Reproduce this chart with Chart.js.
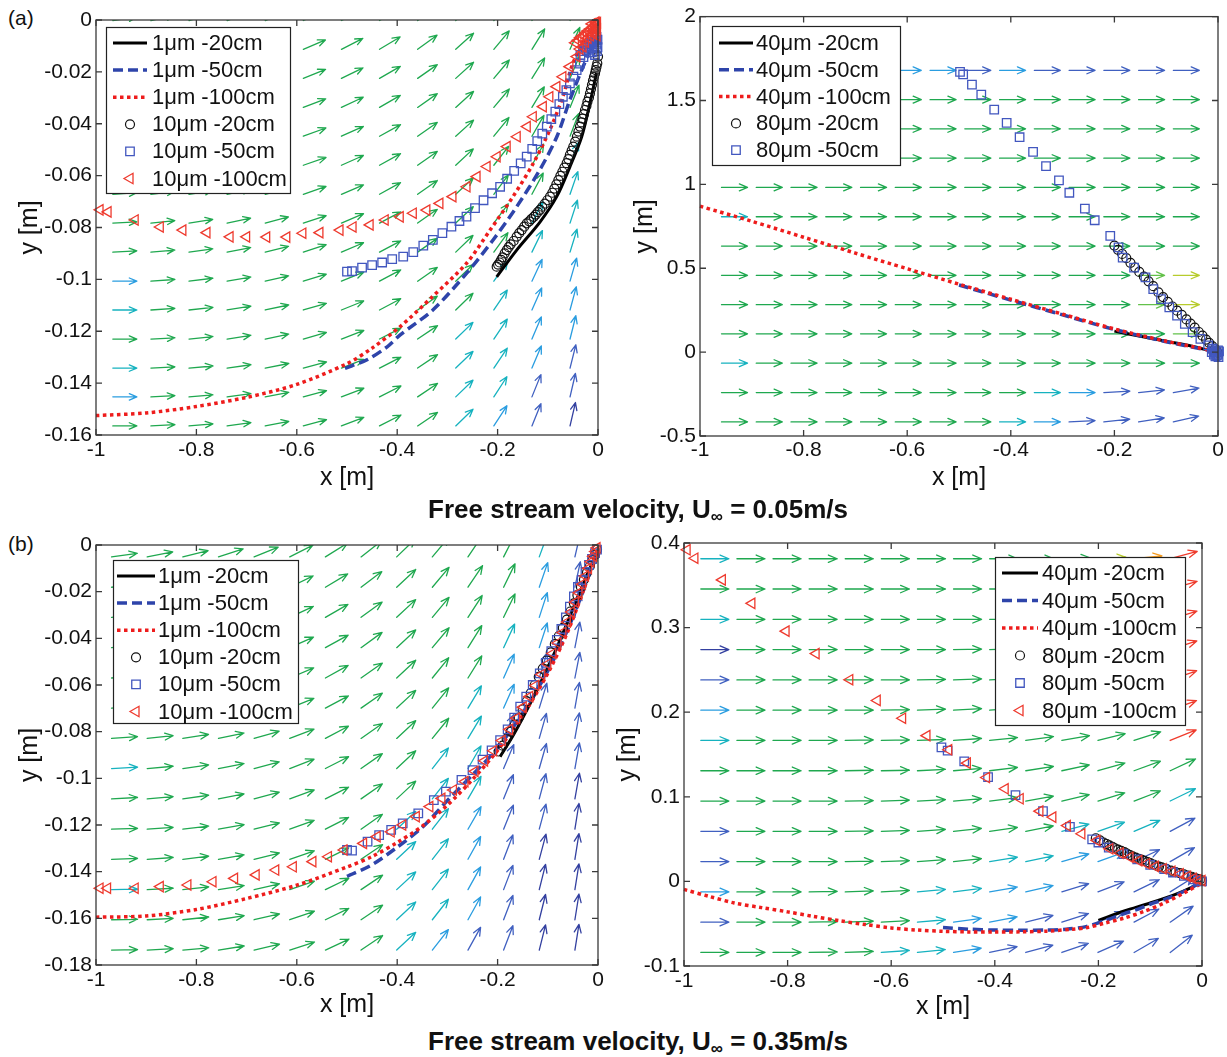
<!DOCTYPE html>
<html>
<head>
<meta charset="utf-8">
<script src="https://cdn.jsdelivr.net/npm/chart.js@4.4.1/dist/chart.umd.min.js"></script>
<style>
body { margin: 0; background: #fff; width: 1227px; height: 1057px; position: relative; overflow: hidden; font-family: 'Liberation Sans', Arial, sans-serif; color: #111; }
.panel { position: absolute; }
.tag { position: absolute; font-size: 21px; line-height: 24px; }
.cap { position: absolute; font-weight: bold; font-size: 26px; line-height: 30px; transform: translateX(-50%); white-space: nowrap; }
.cap sub { font-size: 17px; vertical-align: -4px; line-height: 0; }
</style>
</head>
<body>
<div class="tag" style="left:8px;top:6px">(a)</div>
<div class="tag" style="left:8px;top:532px">(b)</div>
<div class="panel" style="left:0;top:0"><canvas id="a1" width="610" height="500"></canvas></div>
<div class="panel" style="left:620px;top:0"><canvas id="a2" width="607" height="500"></canvas></div>
<div class="panel" style="left:0;top:525px"><canvas id="b1" width="610" height="500"></canvas></div>
<div class="panel" style="left:610px;top:525px"><canvas id="b2" width="617" height="500"></canvas></div>
<div class="cap" style="left:638px;top:494px">Free stream velocity, U<sub>∞</sub> = 0.05m/s</div>
<div class="cap" style="left:638px;top:1026px">Free stream velocity, U<sub>∞</sub> = 0.35m/s</div>
<script>
// ---- tick values
const xTicks = [-1, -0.8, -0.6, -0.4, -0.2, 0];
const a1YTicks = [-0.16, -0.14, -0.12, -0.1, -0.08, -0.06, -0.04, -0.02, 0];
const a2YTicks = [-0.5, 0, 0.5, 1, 1.5, 2];
const b1YTicks = [-0.18, -0.16, -0.14, -0.12, -0.1, -0.08, -0.06, -0.04, -0.02, 0];
const b2YTicks = [-0.1, 0, 0.1, 0.2, 0.3, 0.4];

// ---- legend labels
const smallLabels = ['1μm -20cm', '1μm -50cm', '1μm -100cm', '10μm -20cm', '10μm -50cm', '10μm -100cm'];
const largeLabels = ['40μm -20cm', '40μm -50cm', '40μm -100cm', '80μm -20cm', '80μm -50cm', '80μm -100cm'];

// ---- velocity field, panel (a) left : arrow tails, angle (deg), speed class
const a1GridX = [-0.9665, -0.8906, -0.8147, -0.7388, -0.6629, -0.587, -0.5111, -0.4352, -0.3593, -0.2834, -0.2075, -0.1316, -0.0557];
const a1GridY = [-0.0002, -0.0113, -0.0225, -0.0337, -0.0448, -0.056, -0.0672, -0.0783, -0.0895, -0.1007, -0.1118, -0.123, -0.1342, -0.1453, -0.1565];
const a1Angle = [
  [8, 12, 15, 18, 21, 24, 27, 31, 36, 42, 49, 57, 65],
  [7, 11, 14, 17, 20, 23, 27, 31, 36, 42, 50, 58, 66],
  [7, 10, 13, 16, 19, 22, 26, 30, 35, 42, 50, 58, 67],
  [6, 9, 12, 15, 18, 21, 25, 30, 35, 42, 50, 59, 68],
  [5, 8, 11, 14, 17, 20, 24, 29, 35, 42, 51, 60, 69],
  [4, 7, 10, 13, 16, 19, 24, 29, 35, 43, 52, 61, 70],
  [4, 7, 9, 12, 15, 19, 23, 29, 35, 43, 53, 62, 71],
  [3, 6, 9, 12, 15, 18, 23, 28, 35, 43, 53, 63, 72],
  [3, 5, 8, 11, 14, 18, 23, 28, 35, 44, 54, 64, 73],
  [0, 4, 7, 10, 13, 17, 22, 28, 35, 44, 55, 65, 74],
  [0, 4, 6, 9, 12, 16, 22, 28, 35, 44, 56, 66, 75],
  [0, 3, 6, 9, 12, 16, 21, 27, 34, 44, 56, 67, 76],
  [0, 3, 5, 8, 11, 15, 21, 27, 34, 44, 56, 67, 76],
  [0, 3, 5, 8, 11, 15, 21, 27, 34, 44, 57, 68, 77],
  [0, 3, 5, 8, 11, 15, 21, 27, 34, 44, 57, 68, 77]
];
const a1Speed = [
  [5, 5, 5, 5, 5, 5, 5, 5, 5, 5, 5, 5, 5],
  [5, 5, 5, 5, 5, 5, 5, 5, 5, 5, 5, 5, 5],
  [5, 5, 5, 5, 5, 5, 5, 5, 5, 5, 5, 5, 5],
  [5, 5, 5, 5, 5, 5, 5, 5, 5, 5, 5, 5, 5],
  [5, 5, 5, 5, 5, 5, 5, 5, 5, 5, 5, 5, 5],
  [5, 5, 5, 5, 5, 5, 5, 5, 5, 5, 5, 5, 4],
  [5, 5, 5, 5, 5, 5, 5, 5, 5, 5, 5, 5, 4],
  [5, 5, 5, 5, 5, 5, 5, 5, 5, 5, 5, 4, 4],
  [5, 5, 5, 5, 5, 5, 5, 5, 5, 5, 5, 4, 4],
  [3, 5, 5, 5, 5, 5, 5, 5, 5, 5, 4, 3, 3],
  [4, 5, 5, 5, 5, 5, 5, 5, 5, 5, 4, 3, 3],
  [5, 5, 5, 5, 5, 5, 5, 5, 5, 4, 4, 3, 3],
  [4, 5, 5, 5, 5, 5, 5, 5, 5, 4, 4, 3, 2],
  [3, 5, 5, 5, 5, 5, 5, 5, 5, 4, 4, 2, 2],
  [5, 5, 5, 5, 5, 5, 5, 5, 5, 4, 3, 2, 1]
];

// ---- velocity field, panel (a) right
const a2GridX = [-0.9585, -0.8914, -0.8243, -0.7572, -0.6901, -0.623, -0.5559, -0.4888, -0.4217, -0.3546, -0.2875, -0.2204, -0.1533, -0.0862];
const a2GridY = [1.68, 1.505, 1.331, 1.156, 0.982, 0.807, 0.632, 0.458, 0.283, 0.109, -0.066, -0.241, -0.416];
const a2Angle = [
  [0, 0, 0, 0, 0, 0, 0, 0, 0, 0, 0, 0, 0, 0],
  [0, 0, 0, 0, 0, 0, 0, 0, 0, 0, 0, 0, 0, 0],
  [0, 0, 0, 0, 0, 0, 0, 0, 0, 0, 0, 0, 0, 0],
  [0, 0, 0, 0, 0, 0, 0, 0, 0, 0, 0, 0, 0, 0],
  [0, 0, 0, 0, 0, 0, 0, 0, 0, 0, 0, 0, 0, 0],
  [0, 0, 0, 0, 0, 0, 0, 0, 0, 0, 0, 0, 0, 0],
  [0, 0, 0, 0, 0, 0, 0, 0, 0, 0, 0, 0, 0, 0],
  [0, 0, 0, 0, 0, 0, 0, 0, 0, 0, 0, 0, 0, 0],
  [0, 0, 0, 0, 0, 0, 0, 0, 0, 0, 0, 0, 0, 0],
  [0, 0, 0, 0, 0, 0, 0, 0, 0, 0, 0, 0, 0, 0],
  [0, 0, 0, 0, 0, 0, 0, 0, 0, 0, 0, 0, 0, 0],
  [0, 0, 0, 0, 0, 0, 0, 0, 0, 0, 0, 3, 6, 10],
  [0, 0, 0, 0, 0, 0, 0, 0, 0, 0, 3, 6, 9, 13]
];
const a2Speed = [
  [5, 5, 5, 5, 5, 3, 3, 2, 3, 2, 2, 2, 2, 2],
  [5, 5, 5, 5, 5, 5, 5, 5, 5, 5, 5, 5, 5, 5],
  [5, 5, 5, 5, 5, 5, 5, 5, 5, 5, 5, 5, 5, 5],
  [5, 5, 5, 5, 5, 5, 5, 5, 5, 5, 5, 5, 5, 5],
  [5, 5, 5, 5, 5, 5, 5, 5, 5, 5, 5, 5, 5, 5],
  [4, 5, 5, 5, 5, 5, 5, 5, 5, 5, 5, 5, 5, 5],
  [5, 5, 5, 5, 5, 5, 5, 5, 5, 5, 5, 5, 5, 5],
  [5, 5, 5, 5, 5, 5, 5, 5, 5, 5, 5, 5, 6, 7],
  [5, 5, 5, 5, 5, 5, 5, 5, 5, 5, 5, 5, 6, 7],
  [5, 5, 5, 5, 5, 5, 5, 5, 5, 5, 5, 5, 5, 6],
  [4, 5, 5, 5, 5, 5, 5, 5, 5, 5, 5, 5, 5, 5],
  [5, 5, 5, 5, 5, 5, 5, 5, 5, 4, 3, 2, 2, 2],
  [5, 5, 5, 5, 5, 5, 5, 5, 4, 3, 2, 2, 2, 2]
];

// ---- velocity field, panel (b) left
const b1GridX = [-0.969, -0.898, -0.827, -0.756, -0.685, -0.614, -0.543, -0.472, -0.401, -0.33, -0.259, -0.188, -0.117, -0.046];
const b1GridY = [-0.0051, -0.0181, -0.031, -0.044, -0.057, -0.0699, -0.0829, -0.0958, -0.1088, -0.1218, -0.1347, -0.1477, -0.1606, -0.1736];
const b1Angle = [
  [8, 11, 14, 18, 22, 27, 32, 38, 44, 50, 56, 63, 70, 77],
  [7, 10, 13, 17, 21, 26, 31, 37, 43, 50, 56, 64, 71, 78],
  [6, 9, 12, 16, 20, 25, 30, 36, 43, 50, 57, 64, 72, 78],
  [5, 8, 11, 15, 19, 24, 29, 36, 43, 50, 58, 65, 72, 79],
  [5, 7, 10, 14, 18, 23, 29, 35, 43, 51, 58, 66, 73, 79],
  [4, 7, 10, 13, 17, 22, 28, 35, 43, 51, 59, 66, 73, 80],
  [4, 6, 9, 12, 16, 21, 28, 35, 43, 51, 59, 67, 74, 80],
  [3, 5, 8, 11, 15, 21, 27, 35, 43, 52, 60, 67, 74, 80],
  [3, 5, 8, 11, 15, 20, 27, 35, 43, 52, 60, 68, 75, 80],
  [2, 4, 7, 10, 14, 20, 27, 35, 43, 52, 60, 68, 75, 81],
  [2, 4, 7, 10, 14, 19, 26, 34, 43, 52, 61, 69, 75, 81],
  [1, 3, 6, 9, 13, 19, 26, 34, 43, 52, 61, 69, 76, 81],
  [1, 3, 6, 9, 13, 19, 26, 34, 43, 52, 61, 69, 76, 81],
  [1, 3, 5, 9, 13, 18, 25, 34, 43, 52, 61, 69, 76, 81]
];
const b1Speed = [
  [5, 5, 5, 5, 5, 5, 5, 5, 5, 5, 5, 5, 4, 2],
  [5, 5, 5, 5, 5, 5, 5, 5, 5, 5, 5, 5, 3, 2],
  [5, 5, 5, 5, 5, 5, 5, 5, 5, 5, 5, 5, 3, 2],
  [5, 5, 5, 5, 5, 5, 5, 5, 5, 5, 5, 4, 3, 2],
  [5, 5, 5, 5, 5, 5, 5, 5, 5, 5, 5, 3, 2, 2],
  [5, 5, 5, 5, 5, 5, 5, 5, 5, 5, 4, 3, 2, 2],
  [5, 5, 5, 5, 5, 5, 5, 5, 5, 5, 4, 2, 2, 2],
  [4, 5, 5, 5, 5, 5, 5, 5, 5, 4, 4, 2, 2, 2],
  [5, 5, 5, 5, 5, 5, 5, 5, 5, 4, 4, 2, 2, 1],
  [5, 5, 5, 5, 5, 5, 5, 5, 4, 4, 3, 2, 2, 1],
  [5, 5, 5, 5, 5, 5, 5, 5, 4, 4, 3, 2, 1, 1],
  [4, 5, 5, 5, 5, 5, 5, 5, 4, 4, 3, 2, 1, 1],
  [5, 5, 5, 5, 5, 5, 5, 5, 4, 4, 3, 2, 1, 1],
  [5, 5, 5, 5, 5, 5, 5, 5, 4, 3, 2, 2, 1, 1]
];

// ---- velocity field, panel (b) right
const b2GridX = [-0.9675, -0.8978, -0.8281, -0.7584, -0.6887, -0.619, -0.5493, -0.4796, -0.4099, -0.3402, -0.2705, -0.2008, -0.1311, -0.0614];
const b2GridY = [0.3814, 0.3456, 0.3098, 0.274, 0.2382, 0.2024, 0.1666, 0.1308, 0.095, 0.0592, 0.0234, -0.0124, -0.0482, -0.084];
const b2Angle = [
  [0, 0, 0, 0, 0, 0, 0, 0, 0, 0, 2, 3, 6, 15],
  [0, 0, 0, 0, 0, 0, 0, 0, 0, 0, 2, 4, 7, 16],
  [0, 0, 0, 0, 0, 0, 0, 0, 0, 1, 3, 5, 8, 17],
  [0, 0, 0, 0, 0, 0, 0, 1, 2, 3, 4, 6, 10, 18],
  [0, 0, 0, 0, 0, 0, 1, 2, 3, 4, 6, 8, 12, 19],
  [0, 0, 0, 0, 0, 1, 2, 3, 4, 6, 8, 11, 14, 20],
  [0, 0, 0, 0, 1, 1, 2, 4, 6, 8, 10, 14, 18, 22],
  [0, 0, 0, 0, 1, 1, 3, 5, 7, 9, 12, 16, 20, 25],
  [0, 0, 0, 0, 1, 2, 3, 5, 7, 10, 13, 17, 21, 26],
  [0, 0, 0, 0, 1, 2, 4, 6, 8, 11, 15, 19, 23, 28],
  [0, 0, 0, 0, 1, 2, 4, 6, 9, 12, 16, 20, 25, 30],
  [0, 0, 0, 1, 2, 3, 5, 7, 10, 13, 17, 21, 26, 32],
  [0, 0, 0, 1, 2, 3, 5, 8, 11, 14, 18, 22, 28, 35],
  [0, 0, 0, 1, 2, 4, 6, 9, 12, 15, 19, 24, 30, 38]
];
const b2Speed = [
  [4, 5, 5, 5, 5, 5, 5, 5, 5, 5, 5, 7, 8, 9],
  [5, 5, 5, 5, 5, 5, 5, 5, 5, 5, 5, 5, 6, 9],
  [4, 5, 5, 5, 5, 5, 5, 5, 5, 5, 5, 5, 6, 9],
  [1, 5, 5, 5, 5, 5, 5, 5, 5, 5, 5, 5, 6, 9],
  [2, 5, 5, 5, 5, 5, 5, 5, 5, 5, 5, 5, 6, 9],
  [3, 5, 5, 5, 5, 5, 5, 5, 5, 5, 5, 5, 6, 9],
  [4, 5, 5, 5, 5, 5, 5, 5, 5, 5, 5, 5, 5, 9],
  [5, 5, 5, 5, 5, 5, 5, 5, 5, 5, 5, 5, 5, 5],
  [5, 5, 5, 5, 5, 5, 5, 5, 5, 5, 5, 5, 5, 4],
  [2, 5, 5, 5, 5, 5, 5, 5, 5, 5, 4, 4, 4, 2],
  [2, 5, 5, 5, 5, 5, 5, 5, 4, 4, 3, 3, 2, 2],
  [3, 5, 5, 5, 5, 5, 4, 4, 3, 3, 2, 2, 2, 2],
  [2, 5, 5, 5, 5, 5, 4, 3, 3, 2, 2, 2, 2, 2],
  [5, 5, 5, 5, 5, 4, 4, 3, 2, 2, 2, 2, 2, 2]
];

// ---- trajectories, panel (a) left  [x, y]
const a1_1um20 = [[-0.2018, -0.099], [-0.162, -0.0887], [-0.116, -0.078], [-0.082, -0.068], [-0.056, -0.0566], [-0.0325, -0.045], [-0.016, -0.032], [-0.003, -0.0205]];
const a1_1um50 = [[-0.504, -0.1343], [-0.46, -0.131], [-0.42, -0.126], [-0.394, -0.1214], [-0.329, -0.1118], [-0.262, -0.0977], [-0.209, -0.0848], [-0.162, -0.072], [-0.116, -0.0578], [-0.082, -0.045], [-0.056, -0.0308], [-0.0325, -0.0193], [-0.009, -0.009], [0, -0.007]];
const a1_1um100 = [[-1, -0.1525], [-0.9, -0.1515], [-0.8, -0.149], [-0.7, -0.1455], [-0.6, -0.1405], [-0.5, -0.1325], [-0.45, -0.1265], [-0.394, -0.1182], [-0.33, -0.1067], [-0.262, -0.0938], [-0.215, -0.081], [-0.169, -0.068], [-0.129, -0.0553], [-0.096, -0.0424], [-0.07, -0.0296], [-0.05, -0.0167], [-0.0225, -0.0064], [-0.003, -0.0026]];
const a1_10um20 = [[-0.2018, -0.0951], [-0.199, -0.0943], [-0.196, -0.0935], [-0.193, -0.0925], [-0.19, -0.0915], [-0.186, -0.09], [-0.1819, -0.0887], [-0.178, -0.0876], [-0.174, -0.0865], [-0.168, -0.0852], [-0.162, -0.0835], [-0.157, -0.0822], [-0.152, -0.081], [-0.147, -0.0797], [-0.142, -0.0784], [-0.137, -0.0776], [-0.133, -0.0768], [-0.128, -0.0759], [-0.124, -0.075], [-0.12, -0.0741], [-0.1155, -0.0732], [-0.111, -0.072], [-0.106, -0.0708], [-0.101, -0.0695], [-0.0956, -0.0681], [-0.091, -0.0666], [-0.087, -0.065], [-0.083, -0.0634], [-0.079, -0.0617], [-0.075, -0.0601], [-0.071, -0.0585], [-0.067, -0.0569], [-0.0624, -0.0552], [-0.059, -0.0536], [-0.056, -0.052], [-0.0525, -0.0504], [-0.0492, -0.0488], [-0.0455, -0.0469], [-0.042, -0.045], [-0.039, -0.043], [-0.0359, -0.0411], [-0.033, -0.0395], [-0.031, -0.038], [-0.028, -0.0363], [-0.0259, -0.0347], [-0.023, -0.0331], [-0.021, -0.0315], [-0.018, -0.0299], [-0.016, -0.0283], [-0.014, -0.0266], [-0.012, -0.025], [-0.01, -0.0234], [-0.008, -0.0219], [-0.006, -0.0206], [-0.0045, -0.0193], [-0.003, -0.018], [-0.0014, -0.0167], [0, -0.0141]];
const a1_10um50 = [[-0.5, -0.097], [-0.49, -0.0968], [-0.47, -0.0955], [-0.45, -0.0945], [-0.43, -0.0935], [-0.41, -0.0922], [-0.388, -0.0912], [-0.368, -0.0895], [-0.348, -0.087], [-0.329, -0.0848], [-0.31, -0.0822], [-0.292, -0.0797], [-0.276, -0.0775], [-0.262, -0.0758], [-0.245, -0.0725], [-0.228, -0.0695], [-0.211, -0.0668], [-0.195, -0.0643], [-0.181, -0.0612], [-0.167, -0.0582], [-0.154, -0.0553], [-0.142, -0.0527], [-0.131, -0.0497], [-0.121, -0.0467], [-0.111, -0.0438], [-0.102, -0.0411], [-0.093, -0.0382], [-0.085, -0.0353], [-0.077, -0.0324], [-0.07, -0.0296], [-0.063, -0.027], [-0.056, -0.0244], [-0.049, -0.0218], [-0.0425, -0.0193], [-0.036, -0.0168], [-0.029, -0.0143], [-0.0225, -0.0116], [-0.017, -0.0103], [-0.012, -0.0092], [-0.007, -0.0085], [-0.003, -0.0077], [-0.035, -0.0135], [-0.03, -0.012], [-0.025, -0.0105], [-0.02, -0.0095], [-0.015, -0.0088], [-0.01, -0.0082], [-0.005, -0.0078], [-0.001, -0.0076], [-0.004, -0.0095], [-0.008, -0.011], [-0.002, -0.012], [-0.012, -0.0125], [-0.006, -0.0135], [-0.001, -0.0105], [-0.018, -0.0125], [-0.003, -0.0065]];
const a1_10um100 = [[-0.992, -0.0732], [-0.976, -0.074], [-0.922, -0.0771], [-0.872, -0.0798], [-0.827, -0.081], [-0.779, -0.082], [-0.733, -0.0836], [-0.7, -0.0836], [-0.66, -0.0837], [-0.62, -0.0837], [-0.588, -0.0822], [-0.554, -0.082], [-0.514, -0.081], [-0.488, -0.0798], [-0.454, -0.079], [-0.424, -0.0771], [-0.394, -0.0759], [-0.368, -0.0745], [-0.341, -0.0733], [-0.315, -0.0707], [-0.289, -0.0681], [-0.261, -0.0643], [-0.241, -0.0604], [-0.221, -0.0565], [-0.201, -0.0527], [-0.181, -0.0488], [-0.161, -0.045], [-0.141, -0.0411], [-0.129, -0.0373], [-0.109, -0.0334], [-0.096, -0.0296], [-0.082, -0.0257], [-0.07, -0.0219], [-0.056, -0.018], [-0.042, -0.0141], [-0.03, -0.0103], [-0.02, -0.007], [-0.01, -0.0045], [-0.003, -0.0026], [-0.045, -0.0088], [-0.04, -0.0078], [-0.035, -0.0068], [-0.03, -0.006], [-0.025, -0.005], [-0.02, -0.0042], [-0.015, -0.0034], [-0.01, -0.0027], [-0.006, -0.002], [-0.003, -0.0014], [-0.001, -0.001], [-0.005, -0.004], [-0.009, -0.0055], [-0.002, -0.006], [-0.036, -0.0112], [-0.025, -0.0085], [-0.015, -0.006], [-0.007, -0.0035], [-0.001, -0.0035], [-0.012, -0.0015], [-0.004, -0.0008]];

// ---- trajectories, panel (a) right
const a2_40um20 = [[-0.2, 0.125], [-0.15, 0.095], [-0.1, 0.065], [-0.05, 0.035], [-0.02, 0.012], [0, -0.005]];
const a2_40um50 = [[-0.5, 0.4], [-0.4, 0.31], [-0.3, 0.222], [-0.2, 0.135], [-0.1, 0.062], [0, 0]];
const a2_40um100 = [[-1, 0.87], [-0.9, 0.78], [-0.8, 0.685], [-0.7, 0.59], [-0.6, 0.497], [-0.5, 0.405], [-0.4, 0.315], [-0.3, 0.226], [-0.2, 0.138], [-0.1, 0.065], [-0.05, 0.033], [0, 0]];
const a2_80um20 = [[-0.2, 0.635], [-0.193, 0.61], [-0.185, 0.585], [-0.177, 0.56], [-0.169, 0.532], [-0.16, 0.504], [-0.152, 0.478], [-0.143, 0.45], [-0.134, 0.422], [-0.125, 0.393], [-0.115, 0.356], [-0.106, 0.328], [-0.097, 0.3], [-0.088, 0.272], [-0.079, 0.247], [-0.07, 0.222], [-0.061, 0.195], [-0.053, 0.17], [-0.045, 0.146], [-0.037, 0.12], [-0.03, 0.098], [-0.023, 0.075], [-0.017, 0.055], [-0.011, 0.036], [-0.006, 0.02], [-0.002, 0.007], [0, -0.005]];
const a2_80um50 = [[-0.498, 1.67], [-0.492, 1.655], [-0.475, 1.594], [-0.457, 1.535], [-0.432, 1.446], [-0.408, 1.366], [-0.383, 1.281], [-0.357, 1.194], [-0.332, 1.109], [-0.307, 1.024], [-0.287, 0.95], [-0.257, 0.855], [-0.238, 0.786], [-0.208, 0.693], [-0.192, 0.624], [-0.184, 0.563], [-0.162, 0.504], [-0.14, 0.445], [-0.125, 0.375], [-0.11, 0.316], [-0.094, 0.267], [-0.079, 0.217], [-0.064, 0.168], [-0.049, 0.119], [-0.034, 0.079], [-0.019, 0.04], [-0.008, 0.01], [0, -0.01], [-0.004, 0], [-0.002, -0.02], [0, 0.01], [-0.006, -0.005], [-0.01, 0.02], [-0.012, 0.0], [0.002, 0.005], [-0.005, -0.025], [0.001, -0.03], [-0.008, -0.015]];

// ---- trajectories, panel (b) left
const b1_1um20 = [[-0.195, -0.0907], [-0.17, -0.082], [-0.14, -0.07], [-0.11, -0.057], [-0.08, -0.043], [-0.055, -0.03], [-0.03, -0.017], [-0.012, -0.008], [0, -0.003]];
const b1_1um50 = [[-0.5, -0.142], [-0.45, -0.137], [-0.4, -0.1295], [-0.35, -0.121], [-0.3, -0.1095], [-0.25, -0.0985], [-0.2, -0.087], [-0.15, -0.072], [-0.1, -0.054], [-0.06, -0.036], [-0.03, -0.02], [-0.01, -0.008], [0, -0.002]];
const b1_1um100 = [[-1, -0.1595], [-0.9, -0.159], [-0.8, -0.1562], [-0.7, -0.1515], [-0.6, -0.1458], [-0.5, -0.138], [-0.45, -0.1335], [-0.4, -0.1275], [-0.35, -0.1205], [-0.3, -0.1115], [-0.25, -0.1005], [-0.2, -0.088], [-0.15, -0.073], [-0.1, -0.055], [-0.06, -0.037], [-0.03, -0.02], [-0.01, -0.008], [0, -0.002]];
const b1_10um20 = [[-0.198, -0.0885], [-0.19, -0.086], [-0.182, -0.083], [-0.174, -0.08], [-0.166, -0.077], [-0.158, -0.074], [-0.15, -0.0705], [-0.142, -0.067], [-0.134, -0.0635], [-0.126, -0.06], [-0.118, -0.0565], [-0.11, -0.053], [-0.102, -0.0495], [-0.094, -0.046], [-0.086, -0.0425], [-0.078, -0.039], [-0.07, -0.0355], [-0.062, -0.032], [-0.055, -0.0285], [-0.048, -0.025], [-0.041, -0.0215], [-0.034, -0.018], [-0.028, -0.0148], [-0.022, -0.0118], [-0.016, -0.009], [-0.011, -0.0065], [-0.006, -0.0042], [-0.002, -0.002]];
const b1_10um50 = [[-0.5, -0.1307], [-0.49, -0.131], [-0.459, -0.1271], [-0.436, -0.1243], [-0.412, -0.1221], [-0.389, -0.1193], [-0.358, -0.115], [-0.327, -0.1093], [-0.303, -0.1057], [-0.272, -0.1007], [-0.25, -0.0965], [-0.23, -0.092], [-0.212, -0.088], [-0.195, -0.0836], [-0.18, -0.079], [-0.167, -0.074], [-0.155, -0.0693], [-0.143, -0.065], [-0.13, -0.06], [-0.116, -0.055], [-0.104, -0.0505], [-0.093, -0.0455], [-0.082, -0.0407], [-0.073, -0.036], [-0.064, -0.031], [-0.056, -0.0264], [-0.048, -0.022], [-0.04, -0.018], [-0.0325, -0.015], [-0.025, -0.0115], [-0.018, -0.0085], [-0.012, -0.006], [-0.006, -0.0035], [-0.002, -0.002]];
const b1_10um100 = [[-0.992, -0.1471], [-0.977, -0.1471], [-0.922, -0.1471], [-0.872, -0.1464], [-0.817, -0.1457], [-0.767, -0.1443], [-0.724, -0.1429], [-0.681, -0.1414], [-0.642, -0.1393], [-0.607, -0.1379], [-0.568, -0.1357], [-0.537, -0.1336], [-0.506, -0.1307], [-0.467, -0.1279], [-0.44, -0.125], [-0.412, -0.1229], [-0.389, -0.12], [-0.362, -0.1164], [-0.335, -0.1121], [-0.311, -0.1086], [-0.288, -0.105], [-0.265, -0.1014], [-0.245, -0.097], [-0.226, -0.0925], [-0.208, -0.0882], [-0.191, -0.0838], [-0.176, -0.079], [-0.162, -0.0742], [-0.149, -0.0695], [-0.136, -0.065], [-0.124, -0.0602], [-0.112, -0.0555], [-0.1, -0.051], [-0.09, -0.0465], [-0.08, -0.042], [-0.07, -0.0375], [-0.061, -0.033], [-0.053, -0.0287], [-0.045, -0.0245], [-0.038, -0.0205], [-0.031, -0.0168], [-0.025, -0.0133], [-0.019, -0.01], [-0.014, -0.0072], [-0.009, -0.0048], [-0.005, -0.0028], [-0.002, -0.0012]];

// ---- trajectories, panel (b) right
const b2_40um20 = [[-0.2, -0.046], [-0.15, -0.035], [-0.1, -0.0255], [-0.05, -0.015], [-0.02, -0.007], [0, 0]];
const b2_40um50 = [[-0.5, -0.0545], [-0.45, -0.0565], [-0.4, -0.0575], [-0.35, -0.0578], [-0.3, -0.0575], [-0.262, -0.0565], [-0.224, -0.0535], [-0.186, -0.046], [-0.15, -0.038], [-0.126, -0.0333], [-0.1, -0.027], [-0.073, -0.0216], [-0.05, -0.016], [-0.028, -0.0098], [-0.01, -0.004], [0, -0.001]];
const b2_40um100 = [[-1, -0.0095], [-0.95, -0.018], [-0.903, -0.0255], [-0.85, -0.031], [-0.8, -0.036], [-0.752, -0.0412], [-0.7, -0.0465], [-0.65, -0.051], [-0.6, -0.055], [-0.55, -0.0575], [-0.5, -0.059], [-0.45, -0.0597], [-0.4, -0.0598], [-0.35, -0.0596], [-0.3, -0.0588], [-0.25, -0.0565], [-0.224, -0.0549], [-0.186, -0.049], [-0.149, -0.0431], [-0.111, -0.0353], [-0.073, -0.0255], [-0.035, -0.0137], [0, -0.002]];
const b2_80um20 = [[-0.205, 0.051], [-0.197, 0.0485], [-0.19, 0.046], [-0.184, 0.0442], [-0.179, 0.0425], [-0.173, 0.0408], [-0.168, 0.0392], [-0.162, 0.0376], [-0.156, 0.036], [-0.15, 0.0345], [-0.145, 0.033], [-0.139, 0.0312], [-0.134, 0.0295], [-0.128, 0.0282], [-0.122, 0.0268], [-0.116, 0.0255], [-0.111, 0.0242], [-0.105, 0.0228], [-0.1, 0.0215], [-0.094, 0.02], [-0.088, 0.0185], [-0.083, 0.0175], [-0.078, 0.0165], [-0.069, 0.0147], [-0.06, 0.0128], [-0.051, 0.011], [-0.043, 0.0097], [-0.035, 0.0083], [-0.027, 0.0068], [-0.02, 0.0055], [-0.014, 0.0042], [-0.009, 0.003], [-0.004, 0.002], [0, 0.001]];
const b2_80um50 = [[-0.503, 0.1584], [-0.491, 0.1545], [-0.459, 0.1418], [-0.413, 0.1233], [-0.36, 0.102], [-0.307, 0.083], [-0.255, 0.0645], [-0.212, 0.0497], [-0.2, 0.046], [-0.18, 0.04], [-0.152, 0.0322], [-0.125, 0.026], [-0.1, 0.0195], [-0.073, 0.0145], [-0.056, 0.0105], [-0.035, 0.0065], [-0.017, 0.0025], [-0.008, 0.001], [0, 0]];
const b2_80um100 = [[-0.994, 0.392], [-0.979, 0.382], [-0.926, 0.3564], [-0.869, 0.3287], [-0.803, 0.2958], [-0.745, 0.2693], [-0.68, 0.2384], [-0.627, 0.2139], [-0.578, 0.1929], [-0.531, 0.1723], [-0.489, 0.1556], [-0.453, 0.1398], [-0.416, 0.1228], [-0.38, 0.1095], [-0.351, 0.0977], [-0.313, 0.083], [-0.288, 0.076], [-0.26, 0.066], [-0.232, 0.0563], [-0.203, 0.0485], [-0.178, 0.0386], [-0.158, 0.0335], [-0.139, 0.0286], [-0.122, 0.0245], [-0.107, 0.0209], [-0.09, 0.0178], [-0.075, 0.015], [-0.058, 0.012], [-0.042, 0.0091], [-0.028, 0.006], [-0.017, 0.0035], [-0.008, 0.002], [0, 0.001]];

// ---- styles
Chart.defaults.font.family = "'Liberation Sans', Arial, sans-serif";
const FONT = "'Liberation Sans', Arial, sans-serif";
const jet = { 1: '#3340a0', 2: '#4060c0', 3: '#2a9de0', 4: '#16b2bf', 5: '#1fa84f', 6: '#63c14a', 7: '#b7cc2d', 8: '#f59b1f', 9: '#ef3b2c' };
const seriesStyle = [
  { line: true, color: '#000000', width: 3, dash: [] },
  { line: true, color: '#2e44aa', width: 3.5, dash: [10, 5] },
  { line: true, color: '#ee1c1c', width: 3.5, dash: [3.5, 3.5] },
  { line: false, color: '#111111', shape: 'circle', r: 4.5, rot: 0, width: 1.2 },
  { line: false, color: '#4257bf', shape: 'rect', r: 6, rot: 0, width: 1.3 },
  { line: false, color: '#ee3a2e', shape: 'triangle', r: 6, rot: -90, width: 1.3 }
];

function fmt(v) { return String(+Number(v).toFixed(2)); }

// quiver arrows, tail at the grid point
function drawQuiver(chart, q) {
  const { ctx, chartArea: a, scales: { x, y } } = chart;
  ctx.save();
  ctx.beginPath();
  ctx.rect(a.left, a.top, a.right - a.left, a.bottom - a.top);
  ctx.clip();
  ctx.lineWidth = 1.3;
  ctx.lineCap = 'round';
  ctx.lineJoin = 'round';
  const hl = q.len * 0.34, s = 0.4;
  q.ys.forEach((gy, i) => q.xs.forEach((gx, j) => {
    const t = q.angle[i][j] * Math.PI / 180;
    const x0 = x.getPixelForValue(gx), y0 = y.getPixelForValue(gy);
    const x1 = x0 + Math.cos(t) * q.len, y1 = y0 - Math.sin(t) * q.len;
    const phi = Math.atan2(y1 - y0, x1 - x0);
    ctx.strokeStyle = jet[q.speed[i][j]];
    ctx.beginPath();
    ctx.moveTo(x0, y0);
    ctx.lineTo(x1, y1);
    ctx.moveTo(x1 - hl * Math.cos(phi + s), y1 - hl * Math.sin(phi + s));
    ctx.lineTo(x1, y1);
    ctx.lineTo(x1 - hl * Math.cos(phi - s), y1 - hl * Math.sin(phi - s));
    ctx.stroke();
  }));
  ctx.restore();
}

// box with inward ticks on all four sides
function drawFrame(chart) {
  const { ctx, chartArea: a, scales: { x, y } } = chart;
  const tl = 6;
  ctx.save();
  ctx.strokeStyle = '#3a3a3a';
  ctx.lineWidth = 1.3;
  ctx.strokeRect(a.left, a.top, a.right - a.left, a.bottom - a.top);
  ctx.beginPath();
  x.ticks.forEach(t => {
    const px = x.getPixelForValue(t.value);
    ctx.moveTo(px, a.bottom); ctx.lineTo(px, a.bottom - tl);
    ctx.moveTo(px, a.top); ctx.lineTo(px, a.top + tl);
  });
  y.ticks.forEach(t => {
    const py = y.getPixelForValue(t.value);
    ctx.moveTo(a.left, py); ctx.lineTo(a.left + tl, py);
    ctx.moveTo(a.right, py); ctx.lineTo(a.right - tl, py);
  });
  ctx.stroke();
  ctx.restore();
}

function marker(ctx, s, x, y) {
  ctx.save();
  ctx.strokeStyle = s.color;
  ctx.lineWidth = s.width;
  ctx.beginPath();
  if (s.shape === 'circle') ctx.arc(x, y, s.r, 0, 2 * Math.PI);
  else if (s.shape === 'rect') { const h = s.r * Math.SQRT1_2; ctx.rect(x - h, y - h, 2 * h, 2 * h); }
  else {
    const r = s.r, k = Math.sqrt(3) / 2;
    ctx.moveTo(x - r, y); ctx.lineTo(x + r / 2, y - r * k); ctx.lineTo(x + r / 2, y + r * k); ctx.closePath();
  }
  ctx.stroke();
  ctx.restore();
}

function drawLegend(chart, lg) {
  const ctx = chart.ctx;
  ctx.save();
  ctx.fillStyle = '#fff';
  ctx.fillRect(lg.left, lg.top, lg.width, lg.height);
  ctx.strokeStyle = '#222';
  ctx.lineWidth = 1.2;
  ctx.strokeRect(lg.left + 0.5, lg.top + 0.5, lg.width, lg.height);
  ctx.font = '22px ' + FONT;
  ctx.textBaseline = 'middle';
  chart.data.datasets.forEach((ds, k) => {
    const s = seriesStyle[k];
    const yy = lg.row0 + k * lg.step;
    if (s.line) {
      ctx.save();
      ctx.strokeStyle = s.color;
      ctx.lineWidth = s.width;
      ctx.setLineDash(s.dash);
      ctx.beginPath();
      ctx.moveTo(lg.s0, yy);
      ctx.lineTo(lg.s1, yy);
      ctx.stroke();
      ctx.restore();
    } else {
      marker(ctx, s, (lg.s0 + lg.s1) / 2, yy);
    }
    ctx.fillStyle = '#111';
    ctx.fillText(ds.label, lg.tx, yy + 1);
  });
  ctx.restore();
}

function makePanel(p) {
  const datasets = p.series.map((pts, k) => {
    const s = seriesStyle[k];
    const base = { label: p.labels[k], data: pts.map(([x, y]) => ({ x, y })), order: 6 - k, clip: false, borderColor: s.color };
    if (s.line) return Object.assign(base, { showLine: true, borderWidth: s.width, borderDash: s.dash, pointRadius: 0, tension: 0.3, fill: false });
    return Object.assign(base, { showLine: false, pointStyle: s.shape, pointRadius: s.r, pointRotation: s.rot, pointBorderWidth: s.width, pointBorderColor: s.color, pointBackgroundColor: 'rgba(0,0,0,0)', borderWidth: s.width });
  });
  const tickFont = { size: 21, family: FONT };
  const titleFont = { size: 25, family: FONT };
  new Chart(document.getElementById(p.id), {
    type: 'scatter',
    data: { datasets },
    options: {
      responsive: false,
      animation: false,
      events: [],
      devicePixelRatio: 1,
      layout: { padding: p.pad },
      plugins: { legend: { display: false }, tooltip: { enabled: false } },
      scales: {
        x: {
          type: 'linear', position: 'bottom', min: -1, max: 0,
          afterBuildTicks: s => { s.ticks = xTicks.map(v => ({ value: v })); },
          afterFit: s => { s.height = p.xHeight; },
          grid: { display: false, drawTicks: false, tickLength: 0 },
          border: { display: false },
          ticks: { font: tickFont, color: '#111', padding: p.xTickPad, maxRotation: 0, autoSkip: false, callback: fmt },
          title: { display: true, text: 'x [m]', font: titleFont, color: '#111', padding: { top: 0, bottom: p.xTitlePad } }
        },
        y: {
          type: 'linear', position: 'left', min: p.yTicks[0], max: p.yTicks[p.yTicks.length - 1],
          afterBuildTicks: s => { s.ticks = p.yTicks.map(v => ({ value: v })); },
          afterFit: s => { s.width = p.yWidth; },
          grid: { display: false, drawTicks: false, tickLength: 0 },
          border: { display: false },
          ticks: { font: tickFont, color: '#111', padding: 4, autoSkip: false, callback: fmt },
          title: { display: true, text: 'y [m]', font: titleFont, color: '#111', padding: { top: p.yTitlePad, bottom: 0 } }
        }
      }
    },
    plugins: [{
      id: 'fig',
      beforeDatasetsDraw(chart) { drawQuiver(chart, p.quiver); },
      afterDatasetsDraw(chart) { drawFrame(chart); drawLegend(chart, p.legend); }
    }]
  });
}

makePanel({
  id: 'a1', yTicks: a1YTicks, labels: smallLabels,
  series: [a1_1um20, a1_1um50, a1_1um100, a1_10um20, a1_10um50, a1_10um100],
  quiver: { xs: a1GridX, ys: a1GridY, angle: a1Angle, speed: a1Speed, len: 24 },
  pad: { top: 20, right: 12, bottom: 0, left: 0 }, yWidth: 96, xHeight: 65, xTickPad: 3, xTitlePad: 7, yTitlePad: 15,
  legend: { left: 106, top: 27, width: 184, height: 166, row0: 43, step: 27.1, s0: 113, s1: 147, tx: 152 }
});
makePanel({
  id: 'a2', yTicks: a2YTicks, labels: largeLabels.slice(0, 5),
  series: [a2_40um20, a2_40um50, a2_40um100, a2_80um20, a2_80um50],
  quiver: { xs: a2GridX, ys: a2GridY, angle: a2Angle, speed: a2Speed, len: 26 },
  pad: { top: 15, right: 9, bottom: 0, left: 0 }, yWidth: 80, xHeight: 64, xTickPad: 2, xTitlePad: 7, yTitlePad: 10,
  legend: { left: 92, top: 26, width: 188, height: 139, row0: 43, step: 26.8, s0: 99, s1: 133, tx: 136 }
});
makePanel({
  id: 'b1', yTicks: b1YTicks, labels: smallLabels,
  series: [b1_1um20, b1_1um50, b1_1um100, b1_10um20, b1_10um50, b1_10um100],
  quiver: { xs: b1GridX, ys: b1GridY, angle: b1Angle, speed: b1Speed, len: 26 },
  pad: { top: 20, right: 12, bottom: 0, left: 0 }, yWidth: 96, xHeight: 60, xTickPad: 3, xTitlePad: 5, yTitlePad: 15,
  legend: { left: 113, top: 35, width: 185, height: 163, row0: 51, step: 27.1, s0: 117, s1: 155, tx: 158 }
});
makePanel({
  id: 'b2', yTicks: b2YTicks, labels: largeLabels,
  series: [b2_40um20, b2_40um50, b2_40um100, b2_80um20, b2_80um50, b2_80um100],
  quiver: { xs: b2GridX, ys: b2GridY, angle: b2Angle, speed: b2Speed, len: 28 },
  pad: { top: 18, right: 25, bottom: 0, left: 0 }, yWidth: 74, xHeight: 59, xTickPad: 3, xTitlePad: 3, yTitlePad: 3,
  legend: { left: 385, top: 32, width: 190, height: 168, row0: 48, step: 27.5, s0: 392, s1: 428, tx: 432 }
});
</script>
</body>
</html>
